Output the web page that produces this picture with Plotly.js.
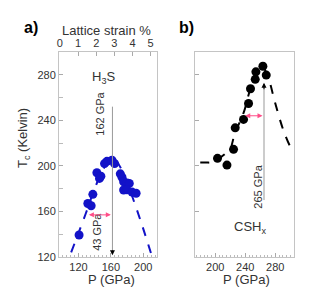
<!DOCTYPE html>
<html><head><meta charset="utf-8">
<script src="https://cdn.plot.ly/plotly-3.0.1.min.js"></script>
<style>html,body{margin:0;padding:0;background:#fff}#c{width:311px;height:302px}</style>
</head><body><div id="c"></div>
<script>
// Panel a) H3S
const h3sP = [120.8,131.6,135.7,137.8,142.8,146,147.7,152.2,155.2,161.4,164.6,171.7,173.8,175.8,180,182.8,175.8,180,186.2,191.2];
const h3sT = [139.3,167,165,175,194,189,191,202,204,205,202,193,190,186,185,184.6,178.8,179,177,176];
const h3sFitP = [111,120,130,140,150,158,164,170,178,187,199,211];
const h3sFitT = [124,141,160,180,196,205,206,201,189,172,147,120];
// Panel b) CSHx
const cshP = [203,215.6,224.4,226.6,237.7,244.4,247,253.3,254.2,263.5,268];
const cshT = [206.6,200.7,214.5,233.4,240.8,254.8,267.7,276,282.6,287.5,279.7];
const cshFitP = [180,188,196,204,212,220,225,229,238,247,253,258,263,268,272,280,291,300,305];
const cshFitT = [203,203,203,206,210,215,226,233,247,268,277,284,287,282,275,255,231,217,212];
// Axis ticks
const pTicksA = [120,160,200];
const pTicksB = [200,240,280];
const tTicks = [120,160,200,240,280];
const strainTicks = [0,1,2,3,4,5];
const peakA = 162, peakB = 265;

const W=311,H=302;
const px = v=>v/W, py = v=>1-v/H;
const blue='#1212c8', frame='#c4c4c4', tc='#333';
const font={family:'Liberation Sans, Arial, sans-serif',size:11,color:tc};

const traces=[
 {x:h3sFitP,y:h3sFitT,xaxis:'x',yaxis:'y',mode:'lines',line:{color:blue,width:2,dash:'dash',shape:'spline'},hoverinfo:'skip'},
 {x:h3sP,y:h3sT,xaxis:'x',yaxis:'y',mode:'markers',marker:{color:blue,size:9}},
 {x:cshFitP,y:cshFitT,xaxis:'x3',yaxis:'y2',mode:'lines',line:{color:'#000',width:2,dash:'dash',shape:'spline'},hoverinfo:'skip'},
 {x:cshP,y:cshT,xaxis:'x3',yaxis:'y2',mode:'markers',marker:{color:'#000',size:9}},
 {x:[0,5],y:[null,null],xaxis:'x2',yaxis:'y',mode:'markers',showlegend:false,hoverinfo:'skip'}
];

const dom=[py(257),py(52)];
const common={showline:true,linecolor:frame,linewidth:1,ticks:'inside',tickcolor:'#aaa',ticklen:4,showgrid:false,zeroline:false,automargin:false,tickfont:{size:11,color:tc}};
const P=(x,y,text,extra)=>Object.assign({xref:'paper',yref:'paper',x:px(x),y:py(y),text:text,showarrow:false,xanchor:'center',yanchor:'middle'},extra||{});
const layout={
 width:W,height:H,margin:{l:0,r:0,t:0,b:0,autoexpand:false},showlegend:false,paper_bgcolor:'#fff',plot_bgcolor:'#fff',font:font,
 xaxis:Object.assign({},common,{domain:[px(59),px(157)],range:[96,217],anchor:'y',tickvals:pTicksA,minor:{dtick:5,ticks:'inside',ticklen:2,tickcolor:'#bbb'}}),
 xaxis2:Object.assign({},common,{overlaying:'x',side:'top',anchor:'y',range:[-0.05,5.35],tickvals:strainTicks,ticklen:4}),
 yaxis:Object.assign({},common,{domain:dom,range:[120,300],anchor:'x',tickvals:tTicks,mirror:true,minor:{dtick:20,ticks:'inside',ticklen:4,tickcolor:'#bbb'}}),
 xaxis3:Object.assign({},common,{domain:[px(195),px(294)],range:[173,305],anchor:'y2',tickvals:pTicksB,mirror:true,minor:{dtick:5,ticks:'inside',ticklen:2,tickcolor:'#bbb'}}),
 yaxis2:Object.assign({},common,{domain:dom,range:[120,300],anchor:'x3',tickvals:tTicks,showticklabels:false,mirror:true}),
 shapes:[
  {type:'line',xref:'x',yref:'y',x0:peakA,x1:peakA,y0:252,y1:124,line:{color:'#999',width:1}},
  {type:'line',xref:'x3',yref:'y2',x0:peakB,x1:peakB,y0:170,y1:270,line:{color:'#999',width:1}}
 ],
 annotations:[
  P(31,27,'<b>a)</b>',{font:{size:16,color:'#000'}}),
  P(186.5,27.5,'<b>b)</b>',{font:{size:16,color:'#000'}}),
  P(106.5,31,'Lattice strain %',{font:{size:13,color:tc}}),
  P(111.7,279,'P (GPa)',{font:{size:13,color:tc}}),
  P(246.7,279,'P (GPa)',{font:{size:13,color:tc}}),
  P(23,138,'T<sub>c</sub> (Kelvin)',{textangle:-90,font:{size:13,color:tc}}),
  {xref:'x',yref:'y',x:150.6,y:278,text:'H<sub>3</sub>S',showarrow:false,font:{size:13,color:tc}},
  {xref:'x',yref:'y',x:146.2,y:245.5,text:'162 GPa',textangle:-90,showarrow:false,font:{size:11,color:tc}},
  {xref:'x',yref:'y',x:142.8,y:142,text:'43 GPa',textangle:-90,showarrow:false,font:{size:11,color:tc}},
  {xref:'x3',yref:'y2',x:256.6,y:181.5,text:'265 GPa',textangle:-90,showarrow:false,font:{size:11,color:tc}},
  {xref:'x3',yref:'y2',x:246.6,y:146,text:'CSH<sub>x</sub>',showarrow:false,font:{size:13,color:tc}},
  {xref:'x',yref:'y',axref:'x',ayref:'y',x:peakA,y:121.5,ax:peakA,ay:127,text:'',showarrow:true,arrowhead:2,arrowsize:1,arrowwidth:1,arrowcolor:'#000'},
  {xref:'x3',yref:'y2',axref:'x3',ayref:'y2',x:peakB,y:273,ax:peakB,ay:266,text:'',showarrow:true,arrowhead:2,arrowsize:1,arrowwidth:1,arrowcolor:'#000'},
  {xref:'x',yref:'y',axref:'x',ayref:'y',x:160,y:157,ax:131,ay:157,text:'',showarrow:true,arrowhead:2,startarrowhead:2,arrowside:'end+start',arrowsize:1,arrowwidth:1,arrowcolor:'#ff4d88'},
  {xref:'x3',yref:'y2',axref:'x3',ayref:'y2',x:263,y:244,ax:238,ay:244,text:'',showarrow:true,arrowhead:2,startarrowhead:2,arrowside:'end+start',arrowsize:1,arrowwidth:1,arrowcolor:'#ff4d88'}
 ]
};
Plotly.newPlot('c',traces,layout,{displayModeBar:false,staticPlot:true});
</script></body></html>
